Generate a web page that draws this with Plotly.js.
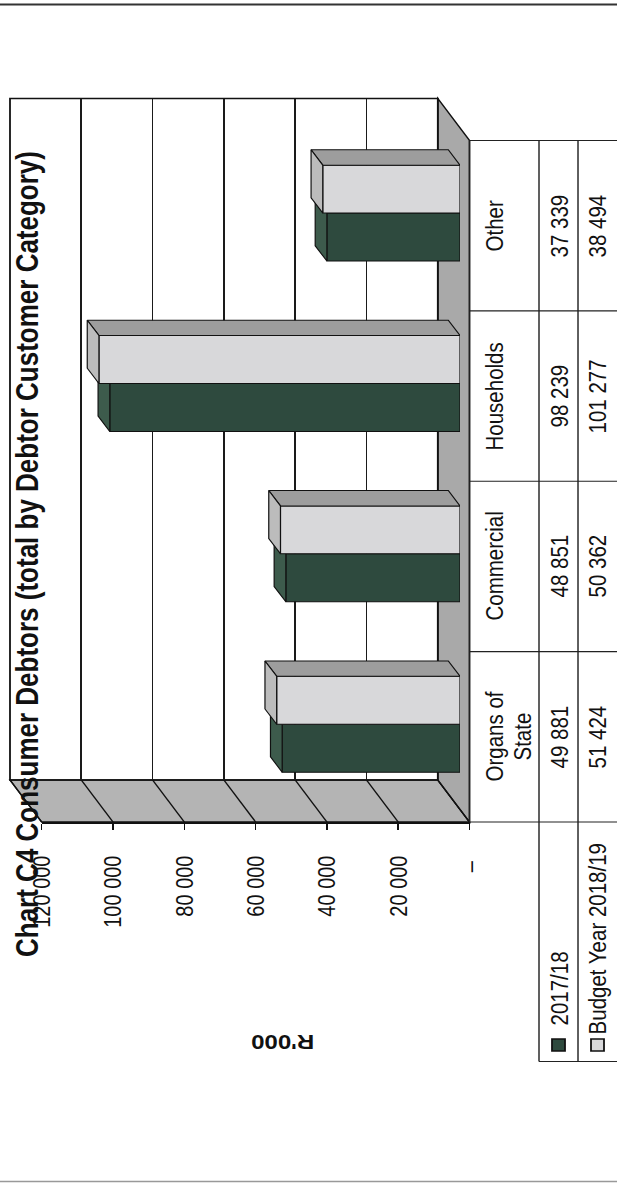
<!DOCTYPE html>
<html><head><meta charset="utf-8">
<script src="https://cdn.plot.ly/plotly-3.0.1.min.js"></script>
<style>
html,body{margin:0;padding:0;width:617px;height:1185px;overflow:hidden;background:#fff;}
#chart{position:absolute;left:-284px;top:335.5px;width:1185px;height:514px;transform:rotate(-90deg) scale(1,1.2004);transform-origin:50% 50%;}
</style></head><body><div id="chart"></div>
<script>
// ---- data ----
const categories = ['Organs of State', 'Commercial', 'Households', 'Other'];
const categoryLabels = ['Organs of<br>State', 'Commercial', 'Households', 'Other'];
const seriesNames = ['2017/18', 'Budget Year 2018/19'];
const values2017 = [49881, 48851, 98239, 37339];
const valuesBudget = [51424, 50362, 101277, 38494];
const yTickVals = [0, 20000, 40000, 60000, 80000, 100000, 120000];
const yTickText = ['\u2013\u00a0', '20 000', '40 000', '60 000', '80 000', '100 000', '120 000'];
const chartTitle = 'Chart C4 Consumer Debtors (total by Debtor Customer Category)';
const yTitle = "R'000";

// ---- geometry: positions measured on the 1185 x 617 unrotated frame ----
const W = 1185, PH = 617, LH = 514;   // layout height; the div is stretched by PH/LH vertically
const fx = u => u / W, fy = u => 1 - u / PH;
const YMAX = 120000;
const front = {x0: 363.5, x1: 1045, y0: 469.5, y1: 41.7};
const backOff = {dx: 42, dy: -31.7};
const barOff = {dx: 12.6, dy: -9.5};
const barDepth = {dx: 15.3, dy: -11.7};
const pxPerCat = (front.x1 - front.x0) / categories.length;
const pxPerVal = (front.y0 - front.y1) / YMAX;
const barW = 0.2815;
const ddx = barDepth.dx / pxPerCat, ddy = -barDepth.dy / pxPerVal;
const FONT = 'Liberation Sans, Arial, sans-serif';
const dark = '#2e4a3e', darkTop = '#3d5b4c', light = '#d8d8da', lightTop = '#bcbcbc', lightSide = '#9d9d9d';

const domX = o => [fx(front.x0 + o.dx), fx(front.x1 + o.dx)];
const domY = o => [fy(front.y0 + o.dy), fy(front.y1 + o.dy)];
const xIdx = categories.map((c, i) => i);
const uyFront = v => front.y0 - v * pxPerVal;
const uyBack = v => front.y0 + backOff.dy - v * pxPerVal;
const uxCat = i => front.x0 + i * pxPerCat;

function topFace(vals, off) {
  const xs = [], ys = [];
  vals.forEach((v, i) => { const a = i + off, b = a + barW;
    xs.push(a, b, b + ddx, a + ddx, a, null); ys.push(v, v, v + ddy, v + ddy, v, null); });
  return {xs, ys};
}
function sideFace(vals, off) {
  const xs = [], ys = [];
  vals.forEach((v, i) => { const b = i + off + barW;
    xs.push(b, b, b + ddx, b + ddx, b, null); ys.push(0, v, v + ddy, ddy, 0, null); });
  return {xs, ys};
}
const edge = {color: '#111', width: 1};
const tDark = topFace(values2017, -barW);
const tLight = topFace(valuesBudget, 0);
const sLight = sideFace(valuesBudget, 0);

const traces = [
  {type: 'scatter', x: [], y: [], xaxis: 'x', yaxis: 'y', showlegend: false, hoverinfo: 'skip'},
  {type: 'bar', name: seriesNames[0], x: xIdx, y: values2017, xaxis: 'x2', yaxis: 'y2', width: barW, offset: -barW,
   marker: {color: dark, line: edge}, showlegend: false},
  {type: 'scatter', x: tDark.xs, y: tDark.ys, xaxis: 'x2', yaxis: 'y2', mode: 'lines', fill: 'toself',
   fillcolor: darkTop, line: edge, showlegend: false, hoverinfo: 'skip'},
  {type: 'bar', name: seriesNames[1], x: xIdx, y: valuesBudget, xaxis: 'x3', yaxis: 'y3', width: barW, offset: 0,
   marker: {color: light, line: edge}, showlegend: false},
  {type: 'scatter', x: sLight.xs, y: sLight.ys, xaxis: 'x3', yaxis: 'y3', mode: 'lines', fill: 'toself',
   fillcolor: lightSide, line: edge, showlegend: false, hoverinfo: 'skip'},
  {type: 'scatter', x: tLight.xs, y: tLight.ys, xaxis: 'x3', yaxis: 'y3', mode: 'lines', fill: 'toself',
   fillcolor: lightTop, line: edge, showlegend: false, hoverinfo: 'skip'},
  {type: 'scatter', x: [], y: [], xaxis: 'x4', yaxis: 'y4', showlegend: false, hoverinfo: 'skip'}
];

const hidX = (d, a) => ({domain: d, anchor: a, range: [-0.5, categories.length - 0.5], showgrid: false, zeroline: false,
  showticklabels: false, ticks: '', showline: false, fixedrange: true});
const hidY = (d, a) => ({domain: d, anchor: a, range: [0, YMAX], showgrid: false, zeroline: false,
  showticklabels: false, ticks: '', showline: false, fixedrange: true});

const layout = {
  width: W, height: LH, margin: {l: 0, r: 0, t: 0, b: 0},
  paper_bgcolor: '#fff', plot_bgcolor: 'rgba(0,0,0,0)', barmode: 'overlay', showlegend: false,
  font: {family: FONT, color: '#111'},
  title: {text: '<b>' + chartTitle + '</b>', font: {size: 26, family: FONT, color: '#111'},
    x: fx(631.5), xanchor: 'center', xref: 'paper', y: fy(27), yanchor: 'middle', yref: 'paper'},
  xaxis: hidX(domX(backOff), 'y'),
  yaxis: Object.assign(hidY(domY(backOff), 'x'), {showgrid: true, gridcolor: '#1a1a1a', gridwidth: 1.4, tickvals: yTickVals}),
  xaxis2: hidX(domX(barOff), 'y2'), yaxis2: hidY(domY(barOff), 'x2'),
  xaxis3: hidX(domX(barOff), 'y3'), yaxis3: hidY(domY(barOff), 'x3'),
  xaxis4: hidX(domX({dx: 0, dy: 0}), 'y4'),
  yaxis4: {domain: domY({dx: 0, dy: 0}), anchor: 'x4', range: [0, YMAX], side: 'left',
    showline: true, linecolor: '#111', linewidth: 1.5, ticks: 'outside', ticklen: 6, tickwidth: 1.3, tickcolor: '#111',
    tickvals: yTickVals, ticktext: yTickText, tickfont: {size: 20, family: FONT, color: '#111'},
    ticklabelstandoff: 22, showgrid: false, zeroline: false, fixedrange: true},
  shapes: [], annotations: []
};

const S = layout.shapes, A = layout.annotations;
const P = (u, v) => fx(u) + ',' + fy(v);
const poly = pts => 'M' + pts.map(p => P(p[0], p[1])).join('L') + 'Z';
const bx0 = front.x0 + backOff.dx, bx1 = front.x1 + backOff.dx;
// left wall
S.push({type: 'path', xref: 'paper', yref: 'paper', layer: 'below', fillcolor: '#b4b4b4',
  line: {color: '#111', width: 1.3},
  path: poly([[front.x0, uyFront(0)], [front.x0, uyFront(YMAX)], [bx0, uyBack(YMAX)], [bx0, uyBack(0)]])});
// floor
S.push({type: 'path', xref: 'paper', yref: 'paper', layer: 'below', fillcolor: '#a9a9a9',
  line: {color: '#111', width: 1.3},
  path: poly([[front.x0, uyFront(0)], [front.x1, uyFront(0)], [bx1, uyBack(0)], [bx0, uyBack(0)]])});
// back wall outline
S.push({type: 'path', xref: 'paper', yref: 'paper', layer: 'below', fillcolor: 'rgba(0,0,0,0)',
  line: {color: '#111', width: 1.5},
  path: poly([[bx0, uyBack(0)], [bx0, uyBack(YMAX)], [bx1, uyBack(YMAX)], [bx1, uyBack(0)]])});
// wall diagonals
yTickVals.forEach(v => S.push({type: 'line', xref: 'paper', yref: 'paper', layer: 'below',
  x0: fx(bx0), y0: fy(uyBack(v)), x1: fx(front.x0), y1: fy(uyFront(v)), line: {color: '#111', width: 1.3}}));

// data table
const tRows = [469.5, 539, 578, 617];
const legX0 = 124;
const L = (u0, v0, u1, v1) => S.push({type: 'line', xref: 'paper', yref: 'paper', x0: fx(u0), y0: fy(v0), x1: fx(u1), y1: fy(v1),
  line: {color: '#222', width: 1.2}});
L(front.x0, tRows[0], front.x1, tRows[0]);
L(legX0, tRows[1], front.x1, tRows[1]);
L(legX0, tRows[2], front.x1, tRows[2]);
L(legX0, tRows[1], legX0, tRows[3]);
for (let i = 0; i <= categories.length; i++) L(uxCat(i), tRows[0], uxCat(i), tRows[3]);
// frame lines of the page
L(1181, 0, 1181, PH); S[S.length - 1].line = {color: '#333', width: 2};
L(4, 0, 4, PH); S[S.length - 1].line = {color: '#999', width: 1.5};

const fmt = n => String(n).replace(/\B(?=(\d{3})+(?!\d))/g, ' ');
const lineGap = 27;
categories.forEach((c, i) => {
  const cx = fx(uxCat(i) + pxPerCat / 2);
  categoryLabels[i].split('<br>').forEach((t, k) => {
    A.push({text: t, x: cx, y: fy(494 + k * lineGap), xref: 'paper', yref: 'paper', xanchor: 'center', yanchor: 'middle',
      showarrow: false, font: {size: 20.5, family: FONT, color: '#111'}});
  });
  A.push({text: fmt(values2017[i]), x: cx, y: fy((tRows[1] + tRows[2]) / 2), xref: 'paper', yref: 'paper',
    xanchor: 'center', yanchor: 'middle', showarrow: false, font: {size: 20.5, family: FONT, color: '#111'}});
  A.push({text: fmt(valuesBudget[i]), x: cx, y: fy((tRows[2] + tRows[3]) / 2), xref: 'paper', yref: 'paper',
    xanchor: 'center', yanchor: 'middle', showarrow: false, font: {size: 20.5, family: FONT, color: '#111'}});
});
// legend keys in table
const keyColors = [dark, light], keyTextX = [158, 149];
seriesNames.forEach((n, k) => {
  const cy = (tRows[1 + k] + tRows[2 + k]) / 2;
  S.push({type: 'rect', xref: 'paper', yref: 'paper', x0: fx(134.5), x1: fx(146.5), y0: fy(cy - 6.5), y1: fy(cy + 6.5),
    fillcolor: keyColors[k], line: {color: '#111', width: 1.5}});
  A.push({text: n, x: fx(keyTextX[k]), y: fy(cy), xref: 'paper', yref: 'paper', xanchor: 'left', yanchor: 'middle',
    showarrow: false, font: {size: 20.5, family: FONT, color: '#111'}});
});
// value axis title
A.push({text: '<b>' + yTitle + '</b>', x: fx(143), y: fy(283), xref: 'paper', yref: 'paper', xanchor: 'center',
  yanchor: 'middle', textangle: -90, showarrow: false, font: {size: 20, family: FONT, color: '#111'}});

Plotly.newPlot('chart', traces, layout, {displayModeBar: false, staticPlot: true});
</script></body></html>
